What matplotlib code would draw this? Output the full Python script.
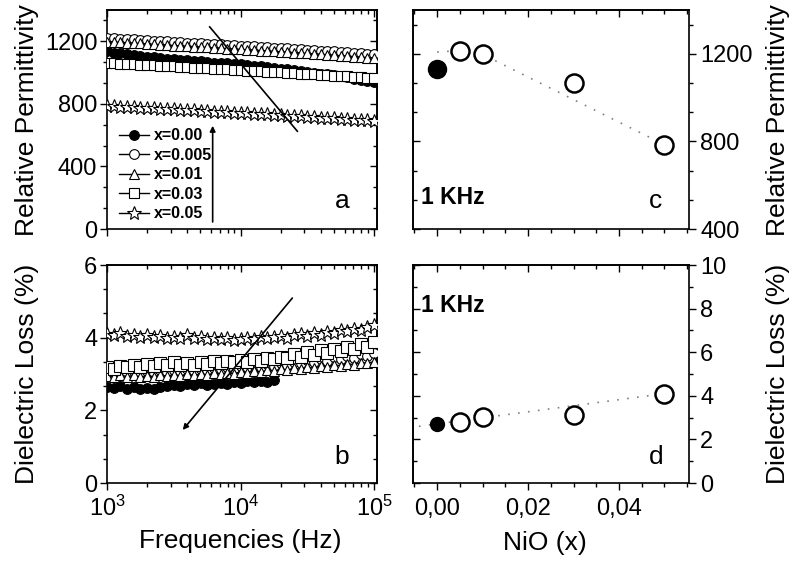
import numpy as np
import matplotlib
matplotlib.use("Agg")
import matplotlib.pyplot as plt
from matplotlib.ticker import AutoMinorLocator, MultipleLocator, FuncFormatter, LogLocator, NullFormatter

plt.rcParams["font.family"] = ["Liberation Sans", "DejaVu Sans"]
plt.rcParams["mathtext.fontset"] = "custom"
plt.rcParams["mathtext.rm"] = "Liberation Sans"

# ── data ──────────────────────────────────────────────────────────────────────
labels = ["x=0.00", "x=0.005", "x=0.01", "x=0.03", "x=0.05"]
markers = ["o", "o", "^", "s", "*"]

freq = [1000, 1122, 1259, 1413, 1585, 1778, 1995, 2239, 2512, 2818,
        3162, 3548, 3981, 4467, 5012, 5623, 6310, 7079, 7943, 8913,
        10000, 11220, 12589, 14125, 15849, 17783, 19953, 22387, 25119, 28184,
        31623, 35481, 39811, 44668, 50119, 56234, 63096, 70795, 79433, 89125,
        100000]

# relative permittivity vs frequency (panel a)
eps_000 = [1135, 1128, 1122, 1116, 1111, 1106, 1101, 1097, 1093, 1089,
           1085, 1081, 1078, 1074, 1071, 1068, 1064, 1061, 1058, 1055,
           1052, 1048, 1044, 1040, 1035, 1031, 1026, 1021, 1016, 1011,
           1005, 1000, 994, 988, 982, 975, 969, 962, 955, 948, 941]
eps_005 = [1222, 1220, 1217, 1215, 1212, 1210, 1207, 1205, 1202, 1200,
           1197, 1195, 1192, 1190, 1187, 1185, 1182, 1180, 1177, 1175,
           1172, 1170, 1167, 1165, 1162, 1160, 1157, 1155, 1152, 1149,
           1146, 1144, 1141, 1138, 1135, 1132, 1130, 1127, 1124, 1121, 1118]
eps_010 = [1198, 1196, 1193, 1191, 1188, 1186, 1183, 1181, 1178, 1176,
           1173, 1171, 1168, 1166, 1163, 1161, 1158, 1156, 1153, 1151,
           1148, 1146, 1143, 1141, 1138, 1136, 1133, 1130, 1128, 1125,
           1122, 1120, 1117, 1114, 1111, 1108, 1105, 1102, 1099, 1096, 1093]
eps_030 = [1062, 1060, 1057, 1055, 1053, 1050, 1048, 1046, 1043, 1041,
           1039, 1036, 1034, 1032, 1029, 1027, 1025, 1022, 1020, 1018,
           1015, 1013, 1011, 1008, 1006, 1003, 1001, 998, 996, 993,
           991, 988, 986, 983, 980, 978, 975, 972, 970, 967, 964]
eps_050 = [788, 786, 783, 781, 779, 776, 774, 772, 769, 767,
           765, 762, 760, 758, 755, 753, 751, 748, 746, 744,
           741, 739, 737, 734, 732, 729, 727, 725, 722, 720,
           717, 715, 712, 710, 707, 705, 702, 700, 697, 695, 692]

# dielectric loss (%) vs frequency (panel b)
nan = np.nan
loss_000 = [2.65, 2.62, 2.66, 2.60, 2.63, 2.58, 2.62, 2.59, 2.64, 2.66,
            2.70, 2.67, 2.72, 2.70, 2.74, 2.71, 2.73, 2.76, 2.72, 2.78,
            2.75, 2.80, 2.77, 2.82, 2.79, 2.84, nan, nan, nan, nan,
            nan, nan, nan, nan, nan, nan, nan, nan, nan, nan, nan]
loss_005 = [3.05, 3.00, 3.06, 3.02, 3.07, 3.03, 3.08, 3.04, 3.10, 3.05,
            3.12, 3.07, 3.13, 3.09, 3.15, 3.11, 3.17, 3.13, 3.20, 3.15,
            3.22, 3.18, 3.25, 3.20, 3.28, 3.23, 3.31, 3.26, 3.34, 3.30,
            3.38, 3.33, 3.42, 3.37, 3.46, 3.41, 3.50, 3.45, 3.54, 3.50, 3.58]
loss_010 = [2.95, 2.92, 2.97, 2.93, 2.96, 2.92, 2.95, 2.93, 2.97, 2.94,
            2.98, 2.95, 2.99, 2.96, 3.00, 2.97, 3.02, 2.99, 3.04, 3.01,
            3.06, 3.03, 3.08, 3.05, 3.10, 3.08, 3.13, 3.10, 3.16, 3.13,
            3.19, 3.16, 3.22, 3.19, 3.25, 3.23, 3.28, 3.26, 3.31, 3.30, 3.34]
loss_030 = [3.20, 3.15, 3.22, 3.18, 3.25, 3.20, 3.27, 3.22, 3.30, 3.25,
            3.32, 3.26, 3.30, 3.24, 3.33, 3.28, 3.35, 3.30, 3.36, 3.32,
            3.38, 3.34, 3.42, 3.36, 3.45, 3.40, 3.48, 3.44, 3.55, 3.48,
            3.60, 3.52, 3.65, 3.58, 3.70, 3.62, 3.75, 3.68, 3.82, 3.75, 3.88]
loss_050 = [4.10, 4.08, 4.12, 4.05, 4.07, 4.03, 4.06, 4.02, 4.04, 4.00,
            4.03, 3.99, 4.07, 3.98, 4.01, 3.96, 3.99, 3.95, 3.98, 3.94,
            3.97, 4.00, 3.96, 4.02, 3.98, 4.01, 4.04, 4.00, 4.06, 4.10,
            4.05, 4.12, 4.08, 4.16, 4.12, 4.20, 4.18, 4.25, 4.22, 4.30, 4.35]

eps_series = [eps_000, eps_005, eps_010, eps_030, eps_050]
loss_series = [loss_000, loss_005, loss_010, loss_030, loss_050]

# values at 1 kHz vs NiO content (panels c, d)
nio = [0.0, 0.005, 0.01, 0.03, 0.05]
eps_1k = [1130, 1215, 1197, 1065, 785]
loss_1k = [2.72, 2.82, 3.02, 3.13, 4.09]

# dotted guide lines
guide_c_x = [0.0, 0.005, 0.01, 0.05]
guide_c_y = [1208, 1215, 1197, 785]
guide_d_x = [-0.004, 0.05]
guide_d_y = [2.6, 4.1]

# ── figure ────────────────────────────────────────────────────────────────────
W, H = 792, 562
fig = plt.figure(figsize=(W / 100, H / 100), dpi=100)


def px_axes(l, t, r, b):
    return fig.add_axes([l / W, 1 - b / H, (r - l) / W, (b - t) / H])


ax_a = px_axes(107, 10, 377, 229)
ax_b = px_axes(107, 265, 377, 483)
ax_c = px_axes(413, 10, 689, 229)
ax_d = px_axes(413, 265, 689, 483)

TICK_FS = 17
LABEL_FS = 19


def style_ticks(axis_ax, which_axis, direction):
    axis_ax.tick_params(axis=which_axis, which="both", direction=direction,
                        width=1.0, labelsize=TICK_FS)
    axis_ax.tick_params(axis=which_axis, which="major", length=5)
    axis_ax.tick_params(axis=which_axis, which="minor", length=3)


for ax in [ax_a, ax_b, ax_c, ax_d]:
    for s in ax.spines.values():
        s.set_linewidth(1.2)
    style_ticks(ax, "both", "out")

# left column
for ax in [ax_a, ax_b]:
    ax.set_xscale("log")
    ax.set_xlim(1000, 105000)
    ax.xaxis.set_major_locator(LogLocator(base=10, numticks=10))
    ax.xaxis.set_minor_locator(LogLocator(base=10, subs=np.arange(2, 10), numticks=20))
    ax.xaxis.set_minor_formatter(NullFormatter())
    ax.yaxis.set_minor_locator(AutoMinorLocator(3))
    ax.tick_params(axis="y", which="both", pad=2)

ax_a.set_ylim(0, 1400)
ax_a.yaxis.set_major_locator(MultipleLocator(400))
ax_a.tick_params(axis="x", labelbottom=False)
ax_b.set_ylim(0, 6)
ax_b.yaxis.set_major_locator(MultipleLocator(2))
ax_b.tick_params(axis="x", pad=4)

# right column: y labels on the right
for ax in [ax_c, ax_d]:
    ax.set_xlim(-0.0053, 0.0554)
    ax.xaxis.set_major_locator(MultipleLocator(0.02))
    ax.xaxis.set_minor_locator(AutoMinorLocator(4))
    ax.yaxis.tick_right()
    ax.tick_params(axis="y", which="both", pad=3)

ax_c.set_ylim(400, 1400)
ax_c.yaxis.set_major_locator(MultipleLocator(400))
ax_c.yaxis.set_minor_locator(AutoMinorLocator(3))
ax_c.tick_params(axis="x", labelbottom=False)
ax_d.set_ylim(0, 10)
ax_d.yaxis.set_major_locator(MultipleLocator(2))
ax_d.yaxis.set_minor_locator(AutoMinorLocator(2))
ax_d.xaxis.set_major_formatter(
    FuncFormatter(lambda v, p: f"{abs(v):.2f}".replace(".", ",")))
ax_d.tick_params(axis="x", pad=6)

# inward mirror ticks on the opposite sides
for ax in [ax_a, ax_b, ax_c, ax_d]:
    top = ax.secondary_xaxis("top")
    if ax in (ax_a, ax_b):
        top.xaxis.set_major_locator(LogLocator(base=10, numticks=10))
        top.xaxis.set_minor_locator(LogLocator(base=10, subs=np.arange(2, 10), numticks=20))
    else:
        top.xaxis.set_major_locator(MultipleLocator(0.02))
        top.xaxis.set_minor_locator(AutoMinorLocator(4))
    top.xaxis.set_minor_formatter(NullFormatter())
    style_ticks(top, "x", "in")
    top.tick_params(axis="x", which="both", labeltop=False)
    top.spines["top"].set_linewidth(1.2)

    side = "right" if ax in (ax_a, ax_b) else "left"
    sy = ax.secondary_yaxis(side)
    sy.yaxis.set_major_locator(ax.yaxis.get_major_locator())
    nminor = 2 if ax is ax_d else 3
    sy.yaxis.set_minor_locator(AutoMinorLocator(nminor))
    style_ticks(sy, "y", "in")
    sy.tick_params(axis="y", which="both", labelleft=False, labelright=False)
    sy.spines[side].set_linewidth(1.2)

# ── panel a ───────────────────────────────────────────────────────────────────
order = [4, 3, 1, 2, 0]
handles = [None] * 5
for i in order:
    face = "black" if i == 0 else "white"
    ms = 10 if markers[i] == "*" else 7
    ln, = ax_a.plot(freq, eps_series[i], marker=markers[i], ms=ms, mfc=face, mec="black",
                    mew=0.8, color="black", lw=1.0, zorder=3 + i)
    handles[i] = ln

ax_a.legend(handles, labels, loc="lower left", bbox_to_anchor=(-0.01, -0.03),
            frameon=False, prop={"weight": "bold", "size": 11.5},
            handlelength=1.9, handletextpad=0.3, labelspacing=0.28)

ax_a.plot([5870, 26600], [1292, 625], color="black", lw=1.2, zorder=10)
ax_a.annotate("", xy=(6180, 660), xytext=(6180, 45),
              arrowprops=dict(arrowstyle="-|>", color="black", lw=1.2,
                              mutation_scale=8, shrinkA=0, shrinkB=0))
ax_a.text(0.87, 0.13, "a", transform=ax_a.transAxes, fontsize=19,
          ha="center", va="center")

# ── panel b ───────────────────────────────────────────────────────────────────
for i in order:
    face = "black" if i == 0 else "white"
    ms = {"o": 7, "^": 7, "s": 9, "*": 10}[markers[i]]
    ax_b.plot(freq, loss_series[i], marker=markers[i], ms=ms, mfc=face, mec="black",
              mew=0.8, color="black", lw=1.0, zorder=3 + i)

ax_b.annotate("", xy=(3690, 1.46), xytext=(24400, 5.09),
              arrowprops=dict(arrowstyle="-|>", color="black", lw=1.2,
                              mutation_scale=8, shrinkA=0, shrinkB=0), zorder=12)
ax_b.text(0.87, 0.12, "b", transform=ax_b.transAxes, fontsize=19,
          ha="center", va="center")

# ── panels c, d ───────────────────────────────────────────────────────────────
ax_c.plot(guide_c_x, guide_c_y, color="gray", lw=1.2, ls=(0, (1, 5)))
ax_c.plot(nio[1:], eps_1k[1:], "o", ms=13, mfc="white", mec="black", mew=1.8, zorder=5)
ax_c.plot(nio[:1], eps_1k[:1], "o", ms=13, mfc="black", mec="black", zorder=5)
ax_c.text(0.03, 0.146, "1 KHz", transform=ax_c.transAxes, fontsize=16.5,
          fontweight="bold", ha="left", va="center")
ax_c.text(0.88, 0.13, "c", transform=ax_c.transAxes, fontsize=19,
          ha="center", va="center")

ax_d.plot(guide_d_x, guide_d_y, color="gray", lw=1.2, ls=(0, (1, 5)))
ax_d.plot(nio[1:], loss_1k[1:], "o", ms=13, mfc="white", mec="black", mew=1.8, zorder=5)
ax_d.plot(nio[:1], loss_1k[:1], "o", ms=10, mfc="black", mec="black", zorder=5)
ax_d.text(0.03, 0.815, "1 KHz", transform=ax_d.transAxes, fontsize=16.5,
          fontweight="bold", ha="left", va="center")
ax_d.text(0.88, 0.12, "d", transform=ax_d.transAxes, fontsize=19,
          ha="center", va="center")

# ── axis labels ───────────────────────────────────────────────────────────────
fig.text(27 / W, 1 - 120 / H, "Relative Permittivity", rotation=90, fontsize=LABEL_FS,
         ha="center", va="center")
fig.text(27 / W, 1 - 374 / H, "Dielectric Loss (%)", rotation=90, fontsize=LABEL_FS,
         ha="center", va="center")
fig.text(778 / W, 1 - 120 / H, "Relative Permittivity", rotation=90, fontsize=LABEL_FS,
         ha="center", va="center")
fig.text(778 / W, 1 - 374 / H, "Dielectric Loss (%)", rotation=90, fontsize=LABEL_FS,
         ha="center", va="center")
fig.text(240 / W, 1 - 541 / H, "Frequencies (Hz)", fontsize=LABEL_FS, ha="center", va="center")
fig.text(545 / W, 1 - 543 / H, "NiO (x)", fontsize=LABEL_FS, ha="center", va="center")

fig.savefig("out.png", dpi=100)
